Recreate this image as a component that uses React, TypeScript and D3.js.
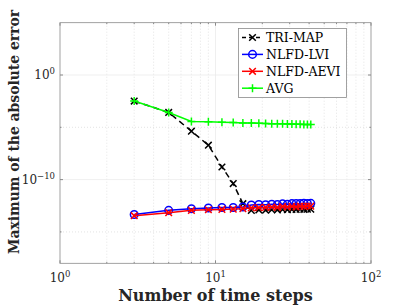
import React, { useEffect, useRef } from 'react';
import * as d3 from 'd3';

const steps = [3, 5, 7, 9, 11, 13, 15, 17, 19, 21, 23, 25, 27, 29, 31, 33, 35, 37, 39, 41];

// log10 of the maximum absolute error
const triMap = [-2.49, -3.58, -5.37, -6.71, -8.79, -10.38, -12.3, -12.94, -12.9, -12.92, -12.88, -12.9, -12.86, -12.88, -12.85, -12.86, -12.83, -12.84, -12.82, -12.83];
const nlfdLvi = [-13.33, -12.94, -12.78, -12.72, -12.66, -12.66, -12.62, -12.42, -12.38, -12.4, -12.36, -12.38, -12.32, -12.35, -12.3, -12.28, -12.3, -12.26, -12.28, -12.27];
const nlfdAevi = [-13.45, -13.16, -12.94, -12.88, -12.85, -12.82, -12.78, -12.7, -12.68, -12.66, -12.62, -12.66, -12.58, -12.62, -12.56, -12.6, -12.54, -12.56, -12.52, -12.54];
const avg = [-2.49, -3.58, -4.44, -4.48, -4.52, -4.55, -4.58, -4.6, -4.62, -4.63, -4.65, -4.66, -4.67, -4.68, -4.69, -4.7, -4.71, -4.72, -4.73, -4.74];

const xTicks = [1, 10, 100];
const yTicks = [1e-10, 1];

interface Series {
  name: string;
  values: number[];
  color: string;
  marker: 'x' | 'o' | '+';
  dash?: string;
}

const series: Series[] = [
  { name: 'TRI-MAP', values: triMap, color: '#000000', marker: 'x', dash: '6,4' },
  { name: 'NLFD-LVI', values: nlfdLvi, color: '#0000ff', marker: 'o' },
  { name: 'NLFD-AEVI', values: nlfdAevi, color: '#ff0000', marker: 'x' },
  { name: 'AVG', values: avg, color: '#00ff00', marker: '+' },
];

const FONT = "'DejaVu Serif', serif";

function drawMarker(g: d3.Selection<SVGGElement, unknown, null, undefined>, x: number, y: number, s: Series) {
  const r = 3.3;
  if (s.marker === 'o') {
    g.append('circle').attr('cx', x).attr('cy', y).attr('r', r + 0.5)
      .attr('fill', 'none').attr('stroke', s.color).attr('stroke-width', 1.5);
  } else if (s.marker === 'x') {
    g.append('path')
      .attr('d', `M${x - r},${y - r}L${x + r},${y + r}M${x - r},${y + r}L${x + r},${y - r}`)
      .attr('stroke', s.color).attr('stroke-width', 1.5);
  } else {
    const p = r + 0.7;
    g.append('path')
      .attr('d', `M${x - p},${y}L${x + p},${y}M${x},${y - p}L${x},${y + p}`)
      .attr('stroke', s.color).attr('stroke-width', 1.5);
  }
}

export default function App() {
  const svgRef = useRef<SVGSVGElement>(null);

  useEffect(() => {
    if (!svgRef.current) return;
    const svg = d3.select(svgRef.current);
    svg.selectAll('*').remove();

    const left = 60, right = 371, top = 22.7, bottom = 263.3;

    const x = d3.scaleLog().domain([1, 100]).range([left, right]);
    const y = d3.scaleLog().domain([1e-18, 1e5]).range([bottom, top]);

    svg.append('rect').attr('width', 409).attr('height', 307).attr('fill', '#fff');

    const grid = svg.append('g');
    // minor grid (dotted)
    const xMinor: number[] = [];
    for (let d = 1; d < 100; d *= 10) for (let k = 2; k <= 9; k++) xMinor.push(d * k);
    xMinor.forEach(v => {
      grid.append('line').attr('x1', x(v)).attr('x2', x(v)).attr('y1', top).attr('y2', bottom)
        .attr('stroke', '#d9d9d9').attr('stroke-width', 0.7).attr('stroke-dasharray', '1,2');
    });
    [1e-15, 1e-5].forEach(v => {
      grid.append('line').attr('x1', left).attr('x2', right).attr('y1', y(v)).attr('y2', y(v))
        .attr('stroke', '#d9d9d9').attr('stroke-width', 0.7).attr('stroke-dasharray', '1,2');
    });
    // major grid
    [10].forEach(v => {
      grid.append('line').attr('x1', x(v)).attr('x2', x(v)).attr('y1', top).attr('y2', bottom)
        .attr('stroke', '#ebebeb').attr('stroke-width', 0.8);
    });
    yTicks.forEach(v => {
      grid.append('line').attr('x1', left).attr('x2', right).attr('y1', y(v)).attr('y2', y(v))
        .attr('stroke', '#ebebeb').attr('stroke-width', 0.8);
    });

    // axes box and ticks
    const axes = svg.append('g').attr('stroke', '#8a8a8a').attr('fill', 'none');
    axes.append('rect').attr('x', left).attr('y', top).attr('width', right - left).attr('height', bottom - top)
      .attr('stroke-width', 0.8);
    xMinor.forEach(v => {
      axes.append('line').attr('x1', x(v)).attr('x2', x(v)).attr('y1', bottom).attr('y2', bottom - 1.5);
      axes.append('line').attr('x1', x(v)).attr('x2', x(v)).attr('y1', top).attr('y2', top + 1.5);
    });
    xTicks.forEach(v => {
      axes.append('line').attr('x1', x(v)).attr('x2', x(v)).attr('y1', bottom).attr('y2', bottom - 3);
      axes.append('line').attr('x1', x(v)).attr('x2', x(v)).attr('y1', top).attr('y2', top + 3);
    });
    [1e-15, 1e-10, 1e-5, 1].forEach(v => {
      const len = yTicks.includes(v) ? 3 : 1.5;
      axes.append('line').attr('x1', left).attr('x2', left + len).attr('y1', y(v)).attr('y2', y(v));
      axes.append('line').attr('x1', right).attr('x2', right - len).attr('y1', y(v)).attr('y2', y(v));
    });

    // tick labels
    const exp = (v: number) => Math.round(Math.log10(v));
    xTicks.forEach(v => {
      const t = svg.append('text').attr('x', x(v)).attr('y', 281.5).attr('text-anchor', 'middle')
        .attr('font-family', FONT).attr('font-size', 12).attr('fill', '#262626');
      t.append('tspan').text('10');
      t.append('tspan').attr('dy', -5).attr('font-size', 8.5).text(String(exp(v)));
    });
    yTicks.forEach(v => {
      const t = svg.append('text').attr('x', 55).attr('y', y(v) + 4).attr('text-anchor', 'end')
        .attr('font-family', FONT).attr('font-size', 12).attr('fill', '#262626');
      t.append('tspan').text('10');
      t.append('tspan').attr('dy', -5).attr('font-size', 8.5).text(exp(v) < 0 ? `\u2212${-exp(v)}` : String(exp(v)));
    });

    // axis titles
    svg.append('text').attr('x', (left + right) / 2).attr('y', 301).attr('text-anchor', 'middle')
      .attr('font-family', FONT).attr('font-size', 16).attr('font-weight', 'bold')
      .attr('fill', '#262626').text('Number of time steps');
    svg.append('text').attr('transform', `translate(19,132) rotate(-90)`).attr('text-anchor', 'middle')
      .attr('font-family', FONT).attr('font-size', 14.2).attr('font-weight', 'bold')
      .attr('textLength', 244).attr('lengthAdjust', 'spacingAndGlyphs')
      .attr('fill', '#262626').text('Maximum of the absolute error');

    // data
    const plot = svg.append('g');
    series.forEach(s => {
      const pts = steps.map((n, i) => [x(n), y(Math.pow(10, s.values[i]))] as [number, number]);
      plot.append('path').attr('d', d3.line()(pts)).attr('fill', 'none')
        .attr('stroke', s.color).attr('stroke-width', 1.5)
        .attr('stroke-dasharray', s.dash || null);
      const mg = plot.append('g');
      pts.forEach(([px, py]) => drawMarker(mg, px, py, s));
    });

    // legend
    const lg = svg.append('g');
    lg.append('rect').attr('x', 238.5).attr('y', 28.5).attr('width', 108).attr('height', 69)
      .attr('fill', '#fff').attr('stroke', '#8a8a8a').attr('stroke-width', 0.8);
    series.forEach((s, i) => {
      const ly = 37.5 + i * 16.9;
      lg.append('line').attr('x1', 242).attr('x2', 263).attr('y1', ly).attr('y2', ly)
        .attr('stroke', s.color).attr('stroke-width', 1.5).attr('stroke-dasharray', s.dash ? '4,3' : null);
      drawMarker(lg, 252.5, ly, s);
      lg.append('text').attr('x', 266).attr('y', ly + 4.5)
        .attr('font-family', FONT).attr('font-size', 12.5).attr('fill', '#000').text(s.name);
    });
  }, []);

  return (
    <svg ref={svgRef} width={409} height={307}
      style={{ position: 'fixed', left: 0, top: 0, display: 'block' }} />
  );
}
